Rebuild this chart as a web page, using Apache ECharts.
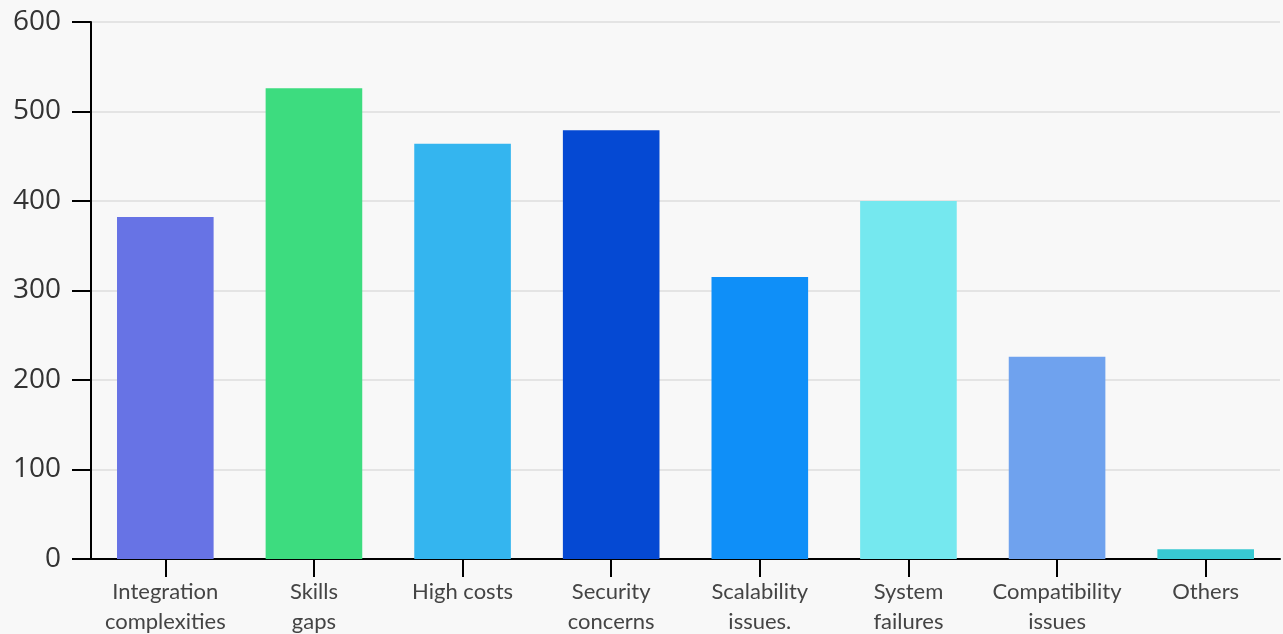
<!DOCTYPE html>
<html>
<head>
<meta charset="utf-8">
<script src="https://cdn.jsdelivr.net/npm/echarts@6/dist/echarts.min.js"></script>
<style>
  html, body { margin: 0; padding: 0; background: #f8f8f8; }
  #chart { width: 1283px; height: 634px; }
</style>
</head>
<body>
<div id="chart"></div>
<script>
// categories and values
const categories = [
  'Integration\ncomplexities', 'Skills\ngaps', 'High costs', 'Security\nconcerns',
  'Scalability\nissues.', 'System\nfailures', 'Compatibility\nissues', 'Others'
];
const values = [382, 526, 464, 479, 315, 400, 226, 11];
const barColors = ['#6773e5', '#3ddc7f', '#34b5ef', '#0549d3', '#0f8ff8', '#75e8ef', '#6fa2ee', '#38c9d2'];
const yTicks = { min: 0, max: 600, interval: 100 };

const chart = echarts.init(document.getElementById('chart'));
chart.setOption({
  backgroundColor: '#f8f8f8',
  animation: false,
  grid: { left: 91, right: 3, top: 22, bottom: 75, outerBoundsMode: 'none', containLabel: false },
  xAxis: {
    type: 'category',
    data: categories,
    axisLine: { lineStyle: { color: '#000', width: 2 } },
    axisTick: { show: true, inside: false, alignWithLabel: true, length: 18, lineStyle: { color: '#000', width: 2 } },
    axisLabel: {
      color: '#444', fontFamily: 'Lato', fontSize: 22, lineHeight: 30, margin: 18, interval: 0
    }
  },
  yAxis: {
    type: 'value',
    min: yTicks.min, max: yTicks.max, interval: yTicks.interval,
    axisLine: { show: true, lineStyle: { color: '#000', width: 2 } },
    axisTick: { show: true, inside: false, length: 19, lineStyle: { color: '#000', width: 2 } },
    axisLabel: { color: '#333', fontFamily: 'Open Sans', fontSize: 28, margin: 30 },
    splitLine: { lineStyle: { color: '#e4e4e4', width: 2 } }
  },
  series: [{
    type: 'bar',
    barWidth: '65%',
    data: values.map((v, i) => ({ value: v, itemStyle: { color: barColors[i] } }))
  }]
});
</script>
</body>
</html>
